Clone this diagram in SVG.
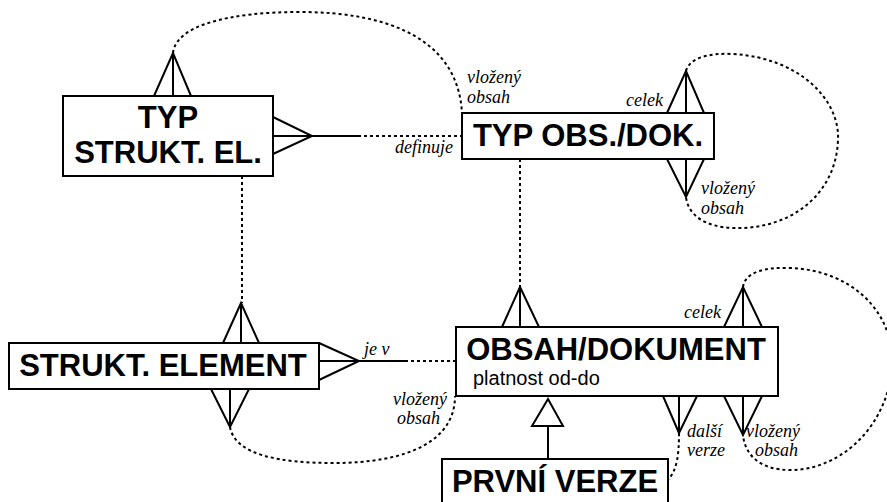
<svg xmlns="http://www.w3.org/2000/svg" width="887" height="502" viewBox="0 0 887 502">
  <style>
    .box { fill: #fff; stroke: #000; stroke-width: 2; }
    .title { font-family: "Liberation Sans", Arial, sans-serif; font-weight: bold; font-size: 31px; fill: #000; }
    .attr { font-family: "Liberation Sans", Arial, sans-serif; font-size: 20px; fill: #000; }
    .role { font-family: "Liberation Serif", "Times New Roman", serif; font-style: italic; font-size: 18px; fill: #000; }
    .solid { fill: none; stroke: #000; stroke-width: 2; }
    .dot { fill: none; stroke: #000; stroke-width: 2; stroke-dasharray: 3 3; }
  </style>

  <!-- connectors -->
  <g id="connectors">
    <!-- TYP STRUKT. EL. to TYP OBS./DOK. (vložený obsah) -->
    <path class="dot" d="M173,53 C176,25 230,12 300,12 C390,12 458,40 462,113"/>
    <!-- definuje -->
    <path class="solid" d="M312,136 H358"/>
    <path class="dot" d="M358,136 H462"/>
    <!-- TYP STRUKT. EL. to STRUKT. ELEMENT -->
    <path class="dot" d="M242,176 V303"/>
    <!-- TYP OBS./DOK. to OBSAH/DOKUMENT -->
    <path class="dot" d="M520,159 V287"/>
    <!-- TYP OBS./DOK. self loop -->
    <path class="dot" d="M686,71 C690,57 710,53 733,54 C800,58 840,100 838,140 C836,195 790,230 733,228 C705,227 688,215 686,197"/>
    <!-- je v -->
    <path class="solid" d="M359,361 H405"/>
    <path class="dot" d="M405,361 H456"/>
    <!-- STRUKT. ELEMENT vložený obsah -->
    <path class="dot" d="M230,427 C235,455 280,463 333,463 C410,463 455,440 455,396"/>
    <!-- OBSAH/DOKUMENT self loop -->
    <path class="dot" d="M743,287 C745,272 765,267 790,268 C850,270 892,310 892,360 C892,420 845,470 790,470 C760,470 745,455 743,435"/>
    <!-- další verze -->
    <path class="dot" d="M679,433 C679,455 677,470 668,480"/>
    <!-- generalisation PRVNÍ VERZE -> OBSAH/DOKUMENT -->
    <path class="solid" d="M548,426 V459"/>
    <path class="solid" d="M548,399 L532,426 H563 Z" fill="#fff"/>
  </g>

  <!-- crow's feet -->
  <g id="feet" class="solid">
    <path d="M154,96 L173,53 L191,96 M173,96 V53"/>
    <path d="M273,117 L312,136 L273,154 M273,136 H312"/>
    <path d="M667,113 L686,71 L704,113 M686,113 V71"/>
    <path d="M667,159 L686,197 L704,159 M686,159 V197"/>
    <path d="M223,343 L241,303 L259,343 M241,343 V303"/>
    <path d="M211,389 L230,427 L249,389 M230,389 V427"/>
    <path d="M319,343 L359,361 L319,380 M319,361 H359"/>
    <path d="M502,327 L520,287 L539,327 M520,327 V287"/>
    <path d="M724,327 L743,287 L762,327 M743,327 V287"/>
    <path d="M724,396 L743,435 L762,396 M743,396 V435"/>
    <path d="M663,396 L679,433 L697,396 M679,396 V433"/>
  </g>

  <!-- role labels -->
  <g id="labels" class="role">
    <text x="467" y="83">vložený</text>
    <text x="467" y="103">obsah</text>
    <text x="453" y="153" text-anchor="end">definuje</text>
    <text x="663" y="106" text-anchor="end">celek</text>
    <text x="701" y="194">vložený</text>
    <text x="701" y="214">obsah</text>
    <text x="364" y="355">je v</text>
    <text x="447" y="405" text-anchor="end">vložený</text>
    <text x="440" y="424" text-anchor="end">obsah</text>
    <text x="721" y="318" text-anchor="end">celek</text>
    <text x="687" y="437">další</text>
    <text x="687" y="456">verze</text>
    <text x="746" y="437">vložený</text>
    <text x="755" y="456">obsah</text>
  </g>

  <g id="typ-strukt-el">
    <rect class="box" x="63" y="96" width="210" height="80"/>
    <text class="title" x="168" y="128" text-anchor="middle">TYP</text>
    <text class="title" x="168" y="163" text-anchor="middle">STRUKT. EL.</text>
  </g>

  <g id="typ-obs-dok">
    <rect class="box" x="462" y="113" width="252" height="46"/>
    <text class="title" x="588" y="146" text-anchor="middle">TYP OBS./DOK.</text>
  </g>

  <g id="strukt-element">
    <rect class="box" x="9" y="343" width="310" height="46"/>
    <text class="title" x="163" y="376" text-anchor="middle">STRUKT. ELEMENT</text>
  </g>

  <g id="obsah-dokument">
    <rect class="box" x="456" y="327" width="322" height="69"/>
    <text class="title" x="616" y="360" text-anchor="middle">OBSAH/DOKUMENT</text>
    <text class="attr" x="473" y="385">platnost od-do</text>
  </g>

  <g id="prvni-verze">
    <rect class="box" x="442" y="459" width="226" height="60"/>
    <text class="title" x="555" y="492" text-anchor="middle">PRVNÍ VERZE</text>
  </g>
</svg>
